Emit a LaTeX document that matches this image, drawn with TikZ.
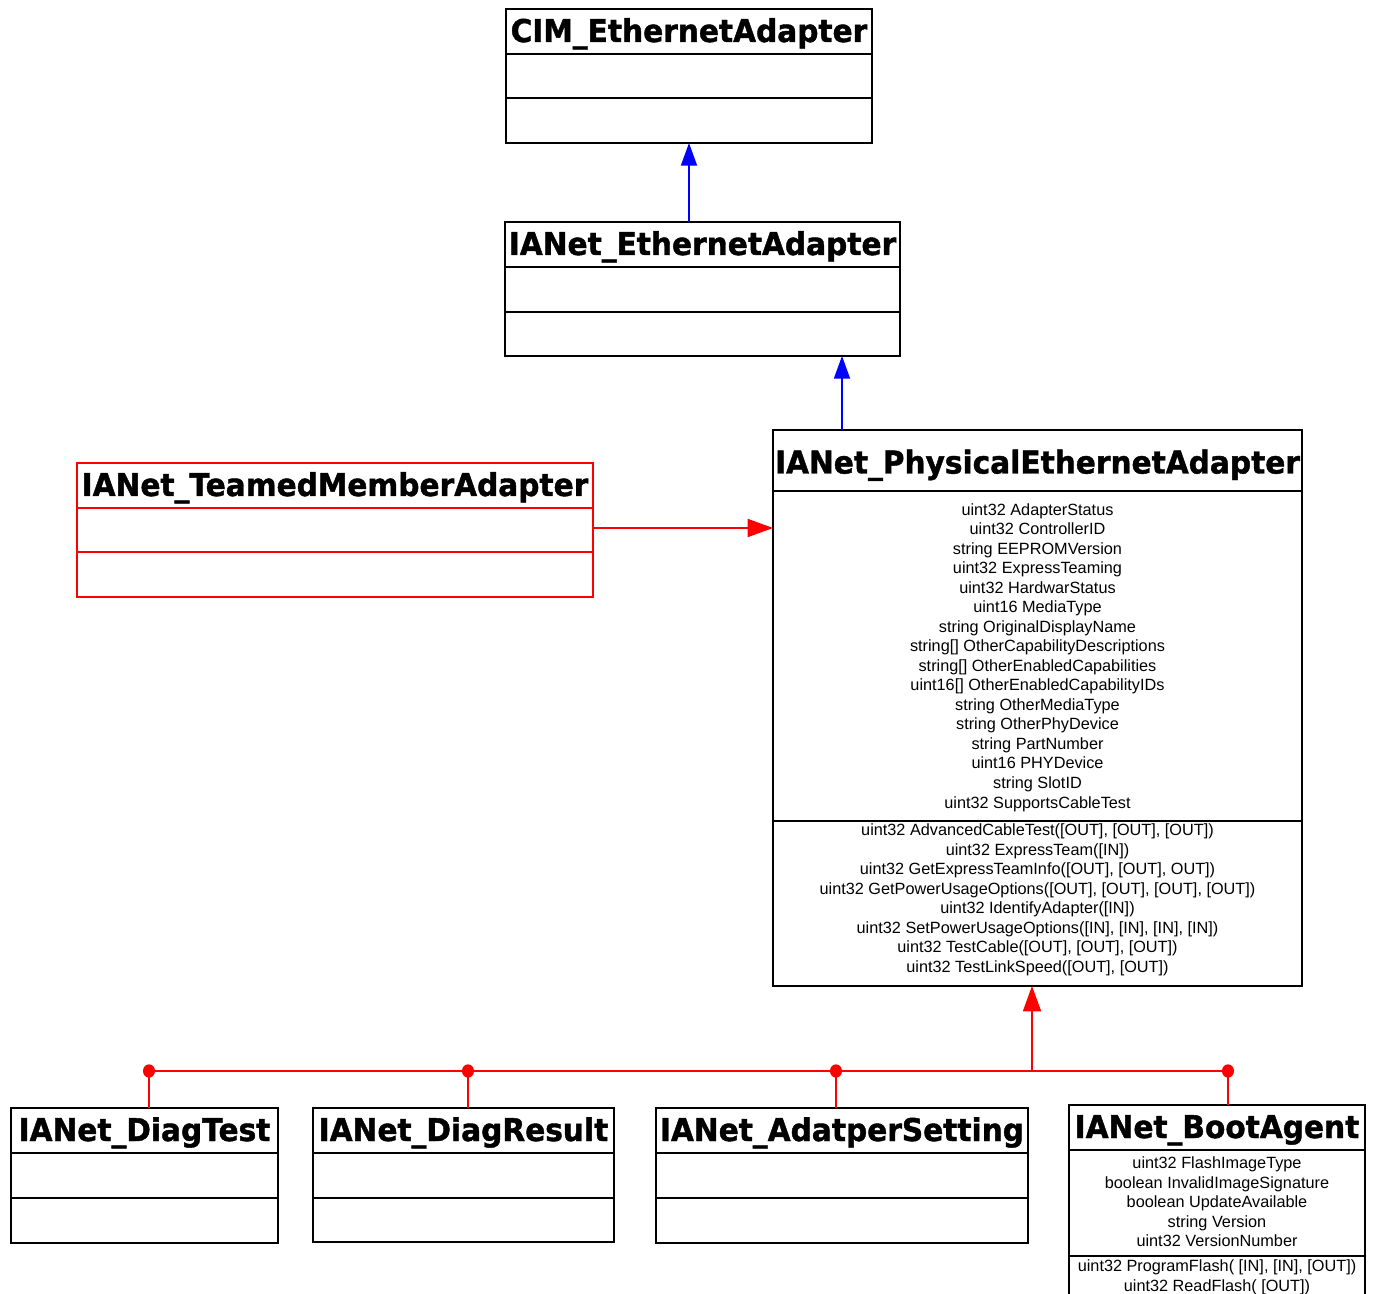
\documentclass[tikz,border=0pt]{standalone}
\usepackage{fontspec}
\setmainfont{Liberation Sans}
\newfontfamily\titlefont[FakeBold=1.3,FakeStretch=0.945]{DejaVu Sans Bold}
\usetikzlibrary{arrows.meta}
\definecolor{genred}{RGB}{255,0,0}
\definecolor{inhblue}{RGB}{0,0,255}
% class frame: name, x1, y1, x2, y2, colour
\newcommand\umlframe[6]{%
  \node[frame, draw=#6, minimum width={(#4-#2)*0.75pt}, minimum height={(#5-#3)*0.75pt}]
    (#1) at (#2,#3) {};}
\begin{document}
\begin{tikzpicture}[x=0.75pt,y=-0.75pt,
  frame/.style={anchor=north west, inner sep=0pt, outer sep=0pt, line width=1.4pt, fill=white},
  divider/.style={line width=1.4pt},
  ctitle/.style={font=\titlefont\fontsize{23.5}{27}\selectfont, inner sep=0pt, anchor=base},
  members/.style={font=\fontsize{12.2}{14.65}\selectfont, align=center, inner sep=0pt, anchor=north},
  inh/.style={inhblue, line width=1.4pt, -{Triangle[length=17pt,width=12pt]}},
  gen/.style={genred, line width=1.4pt},
  genarrow/.style={gen, -{Triangle[length=19pt,width=13.5pt]}},
  joint/.style={genred}
]
\clip (0,0) rectangle (1375,1294);

% CIM_EthernetAdapter
\umlframe{cim}{506}{9}{872}{143}{black}
\draw[divider] (506,54) -- (872,54);
\draw[divider] (506,98) -- (872,98);
\node[ctitle] (cimtitle) at (689,42) {CIM\_EthernetAdapter};

% IANet_EthernetAdapter
\umlframe{ianeteth}{505}{222}{900}{356}{black}
\draw[divider] (505,267) -- (900,267);
\draw[divider] (505,312) -- (900,312);
\node[ctitle] (ianetethtitle) at (702.5,255) {IANet\_EthernetAdapter};

% IANet_TeamedMemberAdapter
\umlframe{teamed}{77}{463}{593}{597}{genred}
\draw[divider, genred] (77,508) -- (593,508);
\draw[divider, genred] (77,552) -- (593,552);
\node[ctitle] (teamedtitle) at (335,496) {IANet\_TeamedMemberAdapter};

% IANet_PhysicalEthernetAdapter
\umlframe{phys}{773}{430}{1302}{986}{black}
\draw[divider] (773,491) -- (1302,491);
\draw[divider] (773,821) -- (1302,821);
\node[ctitle] (phystitle) at (1037.5,473.5) {IANet\_PhysicalEthernetAdapter};
\node[members] (physattr) at (1037.5,503) {uint32 AdapterStatus\\
uint32 ControllerID\\
string EEPROMVersion\\
uint32 ExpressTeaming\\
uint32 HardwarStatus\\
uint16 MediaType\\
string OriginalDisplayName\\
string[] OtherCapabilityDescriptions\\
string[] OtherEnabledCapabilities\\
uint16[] OtherEnabledCapabilityIDs\\
string OtherMediaType\\
string OtherPhyDevice\\
string PartNumber\\
uint16 PHYDevice\\
string SlotID\\
uint32 SupportsCableTest};
\node[members] (physmeth) at (1037.5,823.5) {uint32 AdvancedCableTest([OUT], [OUT], [OUT])\\
uint32 ExpressTeam([IN])\\
uint32 GetExpressTeamInfo([OUT], [OUT], OUT])\\
uint32 GetPowerUsageOptions([OUT], [OUT], [OUT], [OUT])\\
uint32 IdentifyAdapter([IN])\\
uint32 SetPowerUsageOptions([IN], [IN], [IN], [IN])\\
uint32 TestCable([OUT], [OUT], [OUT])\\
uint32 TestLinkSpeed([OUT], [OUT])};

% IANet_DiagTest
\umlframe{diagtest}{11}{1108}{278}{1243}{black}
\draw[divider] (11,1153) -- (278,1153);
\draw[divider] (11,1198) -- (278,1198);
\node[ctitle] (diagtesttitle) at (144.5,1141) {IANet\_DiagTest};

% IANet_DiagResult
\umlframe{diagresult}{313}{1108}{614}{1242}{black}
\draw[divider] (313,1153) -- (614,1153);
\draw[divider] (313,1198) -- (614,1198);
\node[ctitle] (diagresulttitle) at (463.5,1141) {IANet\_DiagResult};

% IANet_AdatperSetting
\umlframe{adsetting}{656}{1108}{1028}{1243}{black}
\draw[divider] (656,1153) -- (1028,1153);
\draw[divider] (656,1198) -- (1028,1198);
\node[ctitle] (adsettingtitle) at (842,1141) {IANet\_AdatperSetting};

% IANet_BootAgent
\umlframe{boot}{1069}{1105}{1365}{1310}{black}
\draw[divider] (1069,1150) -- (1365,1150);
\draw[divider] (1069,1256) -- (1365,1256);
\node[ctitle] (boottitle) at (1217,1138) {IANet\_BootAgent};
\node[members] (bootattr) at (1217,1156.5) {uint32 FlashImageType\\
boolean InvalidImageSignature\\
boolean UpdateAvailable\\
string Version\\
uint32 VersionNumber};
\node[members] (bootmeth) at (1217,1259.5) {uint32 ProgramFlash( [IN], [IN], [OUT])\\
uint32 ReadFlash( [OUT])};

% inheritance chain
\coordinate (up1) at (689,0);
\coordinate (up2) at (842,0);
\coordinate (side) at (0,528);
\draw[inh] (ianeteth.north -| up1) -- (cim.south -| up1);
\draw[inh] (phys.north -| up2) -- (ianeteth.south -| up2);
\draw[genarrow] (teamed.east |- side) -- (phys.west |- side);

% bus joining the four lower classes
\coordinate (j1) at (149,1071);
\coordinate (j2) at (468,1071);
\coordinate (j3) at (836,1071);
\coordinate (j4) at (1228,1071);
\coordinate (jm) at (1032,1071);
\draw[gen] (j1) -- (j4);
\draw[gen] (diagtest.north -| j1) -- (j1);
\draw[gen] (diagresult.north -| j2) -- (j2);
\draw[gen] (adsetting.north -| j3) -- (j3);
\draw[gen] (boot.north -| j4) -- (j4);
\draw[genarrow] (jm) -- (phys.south -| jm);
\foreach \j in {j1,j2,j3,j4} \fill[joint] (\j) circle[x radius=4.5pt, y radius=5pt];
\end{tikzpicture}
\end{document}
